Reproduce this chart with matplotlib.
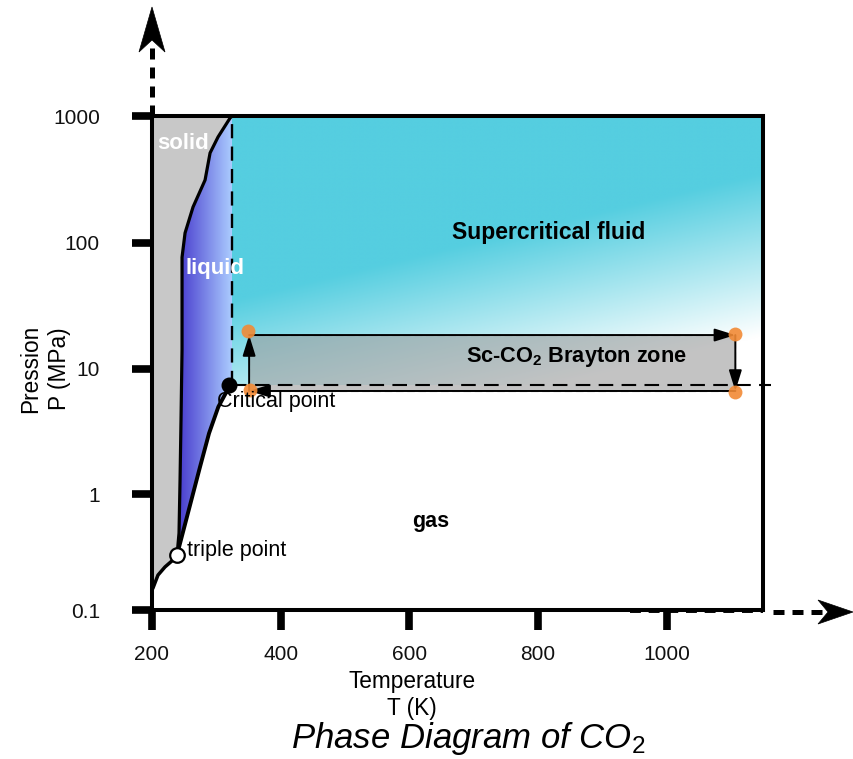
import numpy as np
import matplotlib
matplotlib.use('Agg')
import matplotlib.pyplot as plt
from matplotlib.patches import Polygon
from matplotlib.lines import Line2D
from matplotlib.colors import to_rgb

plt.rcParams['font.family'] = ['Liberation Sans', 'DejaVu Sans']
plt.rcParams['mathtext.fontset'] = 'custom'
plt.rcParams['mathtext.rm'] = 'Liberation Sans'
plt.rcParams['mathtext.it'] = 'Liberation Sans:italic'
plt.rcParams['mathtext.bf'] = 'Liberation Sans:bold'

# ---------------- data ----------------
x_ticks = [200, 400, 600, 800, 1000]
y_ticks = [0.1, 1, 10, 100, 1000]
y_tick_labels = ['0.1', '1', '10', '100', '1000']

# solid-liquid (melting) curve
melt_T = [239, 242, 243.6, 245.1, 246.7, 246.7, 246.7, 251.4, 263.8, 282.5, 290.3, 302.7, 321.4, 324.5]
melt_P = [0.30, 0.46, 1.29, 3.9, 14.2, 35, 77, 120, 192, 313, 512, 684, 964, 1000]
# liquid-gas (vaporization) curve
vap_T = [239, 261.2, 274.7, 288.7, 303.2, 318.8, 320]
vap_P = [0.30, 0.887, 1.65, 3.06, 4.99, 7.0, 7.38]
# solid-gas (sublimation) curve
sub_T = [200, 201.6, 209.3, 220.2, 232.7, 239]
sub_P = [0.149, 0.155, 0.20, 0.235, 0.27, 0.30]

triple_T, triple_P = 239, 0.30
crit_T, crit_P = 320, 7.38
crit_line_T, crit_line_P = 324.5, 7.45

# Sc-CO2 Brayton zone
brayton_T = [351, 1107]
brayton_P = [6.67, 18.6]
state_T = [349, 352, 1107, 1107]
state_P = [20.0, 6.8, 19.0, 6.55]

T_min, T_max = 200, 1150
P_min, P_max = 0.1, 1000

# ------------- custom y scale (decade spacing as in the picture) -------------
Y_LOG = [-1, 0, 1, 2, 3]
Y_PIX = [0, 116, 241, 367, 494]


def fwd(p):
    l = np.log10(np.clip(np.asarray(p, float), 1e-30, None))
    out = np.interp(l, Y_LOG, Y_PIX)
    out = np.where(l < -1, (l + 1) * 116, out)
    out = np.where(l > 3, 494 + (l - 3) * 127, out)
    return out


def inv(v):
    v = np.asarray(v, float)
    l = np.interp(v, Y_PIX, Y_LOG)
    l = np.where(v < 0, -1 + v / 116, l)
    l = np.where(v > 494, 3 + (v - 494) / 127, l)
    return 10 ** l


W, H = 854, 759
fig = plt.figure(figsize=(W / 100, H / 100), dpi=100)
ax = fig.add_axes([152 / W, 1 - 610 / H, 611 / W, 494 / H])
ax.set_xlim(T_min, T_max)
ax.set_yscale('function', functions=(fwd, inv))
ax.set_ylim(P_min, P_max)
ax.autoscale(False)


def fp(x, y):
    return (x / W, 1 - y / H)


# ------------- regions -------------
# solid (gray)
solid_poly = list(zip([T_min] + melt_T[::-1], [P_max] + melt_P[::-1])) + \
    list(zip(sub_T[::-1], sub_P[::-1]))
ax.add_patch(Polygon(solid_poly, closed=True, facecolor='#c8c8c8', edgecolor='none', zorder=1))

# liquid (blue horizontal gradient)
liq_poly = list(zip(melt_T, melt_P)) + [(crit_line_T, crit_line_P), (crit_T, crit_P)] + \
    list(zip(vap_T[::-1], vap_P[::-1]))
liq_clip = Polygon(liq_poly, closed=True, facecolor='none', edgecolor='none', transform=ax.transData)
ax.add_patch(liq_clip)
nx, ny = 700, 600
xf = (np.arange(nx) + 0.5) / nx
yf = (np.arange(ny) + 0.5) / ny
XF, YF = np.meshgrid(xf, yf)
PX = 152 + XF * 611
PY = 610 - YF * 494
t = np.clip((PX - 180) / (232 - 180), 0, 1)[..., None]
c0 = np.array(to_rgb('#4a3fcf'))
c1 = np.array(to_rgb('#abccff'))
img = c0 * (1 - t) + c1 * t
im = ax.imshow(img, extent=(0, 1, 0, 1), transform=ax.transAxes, origin='lower',
               aspect='auto', zorder=1, interpolation='bilinear')
im.set_clip_path(liq_clip)

# supercritical (cyan diagonal gradient)
sc_poly = [(crit_line_T, crit_line_P), (T_max, crit_line_P), (T_max, P_max), (crit_line_T, P_max)]
sc_clip = Polygon(sc_poly, closed=True, facecolor='none', edgecolor='none', transform=ax.transData)
ax.add_patch(sc_clip)
t2 = np.clip(0.00147 * (PX - 232) + 0.00614 * (PY - 116) - 1.13, 0, 1)[..., None]
cy = np.array(to_rgb('#55cee0'))
wh = np.array([1.0, 1.0, 1.0])
img2 = cy * (1 - t2) + wh * t2
im2 = ax.imshow(img2, extent=(0, 1, 0, 1), transform=ax.transAxes, origin='lower',
                aspect='auto', zorder=1, interpolation='bilinear')
im2.set_clip_path(sc_clip)

# Brayton box
ax.fill_between(brayton_T, brayton_P[0], brayton_P[1], facecolor='#9c9c9c', alpha=0.6,
                edgecolor='#888888', linestyle=(0, (6, 3)), linewidth=0.9, zorder=2)

# critical dashed lines
ax.plot([crit_line_T, crit_line_T], [crit_line_P, P_max], color='black', lw=1.7,
        linestyle=(0, (6, 3.5)), zorder=3)
ax.plot([crit_line_T, T_max + 12], [crit_line_P, crit_line_P], color='black', lw=1.5,
        linestyle=(0, (7, 4)), zorder=3, clip_on=False)

# phase curves
ax.plot(melt_T, melt_P, color='black', lw=2.3, zorder=4, solid_capstyle='round', solid_joinstyle='round')
ax.plot(vap_T, vap_P, color='black', lw=2.8, zorder=4, solid_capstyle='round', solid_joinstyle='round')
ax.plot(sub_T, sub_P, color='black', lw=2.5, zorder=4, solid_capstyle='round', solid_joinstyle='round')

# Brayton cycle arrows
Tl, Tr = brayton_T
Pb, Pt = brayton_P
arrow_kw = dict(arrowstyle='-|>,head_length=0.9,head_width=0.28', color='black', lw=1.4,
                mutation_scale=14, shrinkA=0, shrinkB=0)
for (a, b) in [((Tl, Pb), (Tl, Pt)), ((Tl, Pt), (Tr, Pt)), ((Tr, Pt), (Tr, Pb)), ((Tr, Pb), (Tl, Pb))]:
    ax.annotate('', xy=b, xytext=a, arrowprops=arrow_kw, zorder=5)

# state points
ax.plot(state_T, state_P, 'o', ms=10, color='#f28a35', alpha=0.9, mec='none', zorder=6)

# critical & triple points
ax.plot([crit_T], [crit_P], 'o', ms=10.5, color='black', zorder=7)
ax.plot([triple_T], [triple_P], 'o', ms=10.5, mfc='white', mec='black', mew=1.6, zorder=7)

# ------------- texts -------------
ax.text(248, 612, 'solid', color='white', fontsize=16, fontweight='bold', ha='center', va='center', zorder=8)
ax.text(298, 63, 'liquid', color='white', fontsize=16, fontweight='bold', ha='center', va='center', zorder=8)
ax.text(816, 120, 'Supercritical fluid', color='black', fontsize=16.5, fontweight='bold',
        ha='center', va='center', zorder=8)
ax.text(860, 12.4, r'Sc-CO$_\mathbf{2}$ Brayton zone', color='black', fontsize=15.7, fontweight='bold',
        ha='center', va='center', zorder=8)
ax.text(634, 0.574, 'gas', color='black', fontsize=15.5, fontweight='bold', ha='center', va='center', zorder=8)
ax.text(301, 5.45, 'Critical point', color='black', fontsize=15.5, ha='left', va='center', zorder=8)
ax.text(254, 0.323, 'triple point', color='black', fontsize=15.5, ha='left', va='center', zorder=8)

# ------------- axes styling -------------
for s in ax.spines.values():
    s.set_linewidth(2.9)
    s.set_color('black')
    s.set_zorder(9)
ax.set_xticks(x_ticks)
ax.set_xticklabels([str(v) for v in x_ticks])
ax.set_yticks(y_ticks)
ax.set_yticklabels(y_tick_labels)
ax.yaxis.set_minor_locator(matplotlib.ticker.NullLocator())
ax.tick_params(axis='both', direction='out', length=14.5, width=5.5, color='black',
               labelsize=15, labelcolor='#111111')
ax.tick_params(axis='y', pad=23)
ax.tick_params(axis='x', pad=11)

fig.text(45 / W, 1 - 369 / H, 'Pression\nP (MPa)', rotation=90, ha='center', va='center',
         fontsize=16.3, multialignment='center', linespacing=1.3)
fig.text(412 / W, 1 - 695 / H, 'Temperature\nT (K)', ha='center', va='center',
         fontsize=16.3, multialignment='center', linespacing=1.22)
fig.text(468 / W, 1 - 748 / H, r'Phase Diagram of CO$_\mathit{2}$', ha='center', va='baseline',
         fontsize=25, style='italic')

# ------------- dashed axis arrows -------------
dash = (0, (2.2, 1.6))
fig.add_artist(Line2D(*zip(fp(152, 116), fp(152, 46)), transform=fig.transFigure,
                      color='black', lw=3.6, linestyle=dash))
fig.add_artist(Polygon([fp(152, 7), fp(139, 52), fp(152, 40), fp(165, 52)], closed=True,
                       transform=fig.transFigure, facecolor='black', edgecolor='black', lw=0.5))
fig.add_artist(Line2D(*zip(fp(630, 611), fp(763, 611)), transform=fig.transFigure,
                      color='black', lw=2.8, linestyle=(0, (2.8, 2.0)), zorder=0.5))
fig.add_artist(Line2D(*zip(fp(773, 612), fp(822, 612)), transform=fig.transFigure,
                      color='black', lw=3.6, linestyle=dash, zorder=0.5))
fig.add_artist(Polygon([fp(853, 612), fp(818, 600), fp(828, 612), fp(818, 624)], closed=True,
                       transform=fig.transFigure, facecolor='black', edgecolor='black', lw=0.5))

fig.savefig('out.png', dpi=100)
